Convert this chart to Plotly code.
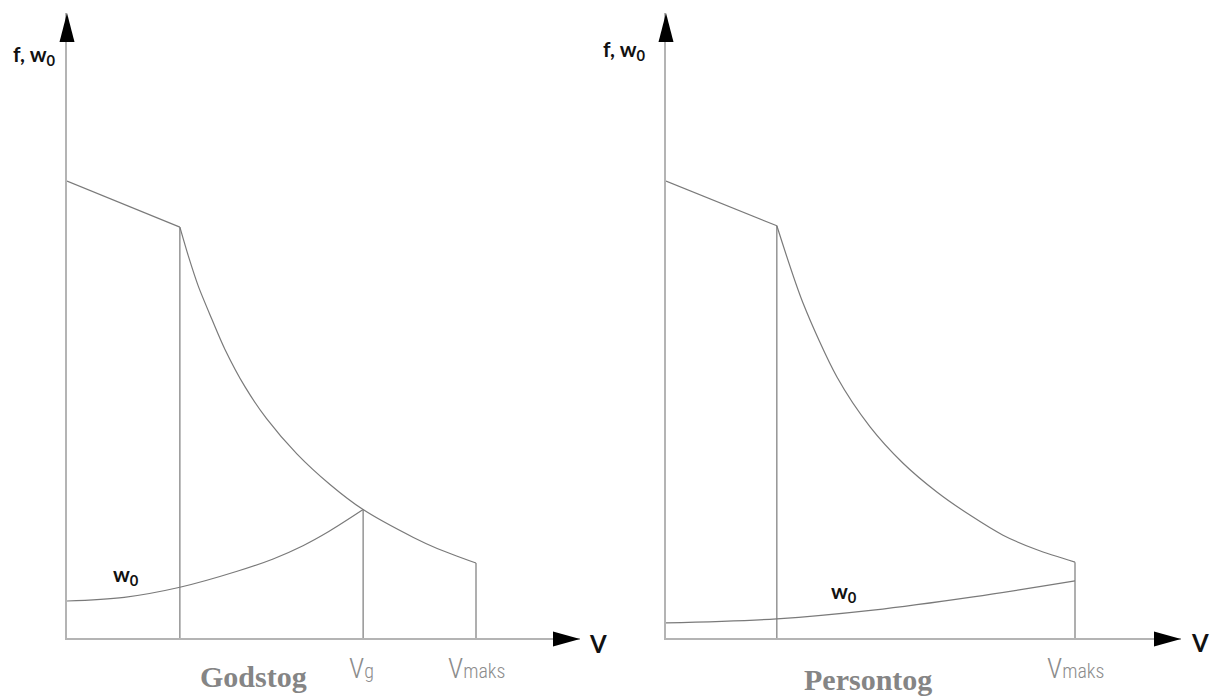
import plotly.graph_objects as go

W, H = 1212, 696

# ---------------- data (arbitrary units: V in % of Vmaks, f/w0 in % of f at V=0) -------------
# Godstog (left)
god_F_v = [0, 27.6]
god_F_f = [100, 89.9]
god_hyp_v = [27.6, 29.7, 32.1, 35.4, 38.6, 43.5, 48.8, 56.2, 64.3, 72.4, 84.7, 90.5, 100.0]
god_hyp_f = [89.9, 83.5, 77.0, 69.8, 63.2, 55.0, 48.0, 40.3, 33.6, 28.1, 22.0, 19.6, 16.4]
god_w0_v = [0, 14.0, 27.6, 41.6, 50.4, 57.7, 64.0, 72.4]
god_w0_f = [8.1, 8.9, 11.1, 14.6, 17.3, 20.2, 23.3, 28.1]
god_v_break = 27.6
god_v_g = 72.4
god_v_maks = 100.0

# Persontog (right)
per_F_v = [0, 27.1]
per_F_f = [100, 90.2]
per_hyp_v = [27.1, 33.5, 41.8, 49.9, 57.9, 66.3, 74.3, 82.4, 90.7, 100.0]
per_hyp_f = [90.2, 73.3, 57.1, 46.2, 38.3, 31.9, 26.9, 22.5, 19.3, 16.6]
per_w0_v = [0, 27.1, 50.6, 75.1, 100.0]
per_w0_f = [3.3, 4.2, 6.1, 9.0, 12.5]
per_v_break = 27.1
per_v_maks = 100.0

panel_titles = ["Godstog", "Persontog"]
axis_y_label = "<b>f, w<sub>0</sub></b>"
axis_x_label = "<b>V</b>"
w0_label = "<b>w<sub>0</sub></b>"

# ---------------- layout helpers --------------------------------------------------------------
def px(x):
    return x / W

def py(y):
    return 1 - y / H

PXV = 4.09   # pixels per V unit
PXF = 4.57   # pixels per f unit
AX_Y0 = 638  # pixel row of the V axis
AX_TOP = 13  # pixel row of the f axis tip

curve_col = "#7a7a7a"
axis_col = "#b4b4b4"
lw = 1.2

fig = go.Figure()

def add_panel(xa, ya, Fv, Ff, hv, hf, wv, wf, vlines):
    common = dict(mode="lines", xaxis=xa, yaxis=ya, hoverinfo="skip", showlegend=False)
    fig.add_trace(go.Scatter(x=Fv, y=Ff, line=dict(color=curve_col, width=lw), **common))
    fig.add_trace(go.Scatter(x=hv, y=hf, line=dict(color=curve_col, width=lw, shape="spline", smoothing=0.8), **common))
    fig.add_trace(go.Scatter(x=wv, y=wf, line=dict(color=curve_col, width=lw, shape="spline", smoothing=1.0), **common))
    for v, top in vlines:
        fig.add_trace(go.Scatter(x=[v, v], y=[0, top], line=dict(color=curve_col, width=lw), **common))

add_panel("x", "y", god_F_v, god_F_f, god_hyp_v, god_hyp_f, god_w0_v, god_w0_f,
          [(god_v_break, god_F_f[-1]), (god_v_g, god_w0_f[-1]), (god_v_maks, god_hyp_f[-1])])
add_panel("x2", "y2", per_F_v, per_F_f, per_hyp_v, per_hyp_f, per_w0_v, per_w0_f,
          [(per_v_break, per_F_f[-1]), (per_v_maks, per_hyp_f[-1])])

# axes
panels = [(67, 580), (666, 1181)]
ydom = [py(AX_Y0), py(AX_TOP)]
yr = [0, (AX_Y0 - AX_TOP) / PXF]
axstyle = dict(showgrid=False, zeroline=False, showticklabels=False, ticks="",
               showline=True, linecolor=axis_col, linewidth=2, fixedrange=True)
fig.update_layout(
    xaxis=dict(domain=[px(panels[0][0]), px(panels[0][1])], range=[0, (panels[0][1] - panels[0][0]) / PXV], anchor="y", **axstyle),
    yaxis=dict(domain=ydom, range=yr, anchor="x", **axstyle),
    xaxis2=dict(domain=[px(panels[1][0]), px(panels[1][1])], range=[0, (panels[1][1] - panels[1][0]) / PXV], anchor="y2", **axstyle),
    yaxis2=dict(domain=ydom, range=yr, anchor="x2", **axstyle),
)

# arrowheads
shapes = []
for x0, x1 in panels:
    shapes.append(dict(type="path", xref="paper", yref="paper", xsizemode="pixel", ysizemode="pixel",
                       xanchor=px(x1), yanchor=py(AX_Y0 + 1), path="M0,0 L-27,7.5 L-27,-7.5 Z",
                       fillcolor="black", line=dict(width=0), layer="above"))
    shapes.append(dict(type="path", xref="paper", yref="paper", xsizemode="pixel", ysizemode="pixel",
                       xanchor=px(x0), yanchor=py(AX_TOP), path="M0,0 L-7.5,-29 L7.5,-29 Z",
                       fillcolor="black", line=dict(width=0), layer="above"))

lab_font = dict(family="Lato, Open Sans, sans-serif", size=21, color="#111111")
ann = []
# f, w0 labels
ann.append(dict(x=px(34), y=py(55), xref="paper", yref="paper", text=axis_y_label, showarrow=False,
                font=lab_font, xanchor="center", yanchor="middle"))
ann.append(dict(x=px(624), y=py(50), xref="paper", yref="paper", text=axis_y_label, showarrow=False,
                font=lab_font, xanchor="center", yanchor="middle"))
# V labels
vfont = dict(family="Lato, Open Sans, sans-serif", size=24, color="#111111")
ann.append(dict(x=px(598), y=py(643), xref="paper", yref="paper", text=axis_x_label, showarrow=False,
                font=vfont, xanchor="center", yanchor="middle"))
ann.append(dict(x=px(1200), y=py(642), xref="paper", yref="paper", text=axis_x_label, showarrow=False,
                font=vfont, xanchor="center", yanchor="middle"))
# w0 curve labels
ann.append(dict(x=px(126), y=py(575), xref="paper", yref="paper", text=w0_label, showarrow=False,
                font=lab_font, xanchor="center", yanchor="middle"))
ann.append(dict(x=px(844), y=py(592), xref="paper", yref="paper", text=w0_label, showarrow=False,
                font=lab_font, xanchor="center", yanchor="middle"))
# speed labels
sfont = dict(family="Liberation Sans Narrow, Roboto Condensed, Roboto, sans-serif", size=28, color="#8c8c8c", weight=300)
def vtxt(sub):
    return 'V<span style="font-size:20px">' + sub + "</span>"
ann.append(dict(x=god_v_g, y=py(668), xref="x", yref="paper", text=vtxt("g"), showarrow=False,
                font=sfont, xanchor="center", yanchor="middle", xshift=-2))
ann.append(dict(x=god_v_maks, y=py(668), xref="x", yref="paper", text=vtxt("maks"), showarrow=False,
                font=sfont, xanchor="center", yanchor="middle"))
ann.append(dict(x=per_v_maks, y=py(668), xref="x2", yref="paper", text=vtxt("maks"), showarrow=False,
                font=sfont, xanchor="center", yanchor="middle"))
# panel titles
tfont = dict(family="Liberation Serif, Times New Roman, serif", size=30, color="#858585")
ann.append(dict(x=px(253), y=py(676), xref="paper", yref="paper", text="<b>" + panel_titles[0] + "</b>",
                showarrow=False, font=tfont, xanchor="center", yanchor="middle"))
ann.append(dict(x=px(868), y=py(679), xref="paper", yref="paper", text="<b>" + panel_titles[1] + "</b>",
                showarrow=False, font=tfont, xanchor="center", yanchor="middle"))

fig.update_layout(
    width=W, height=H, margin=dict(l=0, r=0, t=0, b=0),
    paper_bgcolor="white", plot_bgcolor="white", showlegend=False,
    shapes=shapes, annotations=ann,
)

fig.write_html("out.html")
